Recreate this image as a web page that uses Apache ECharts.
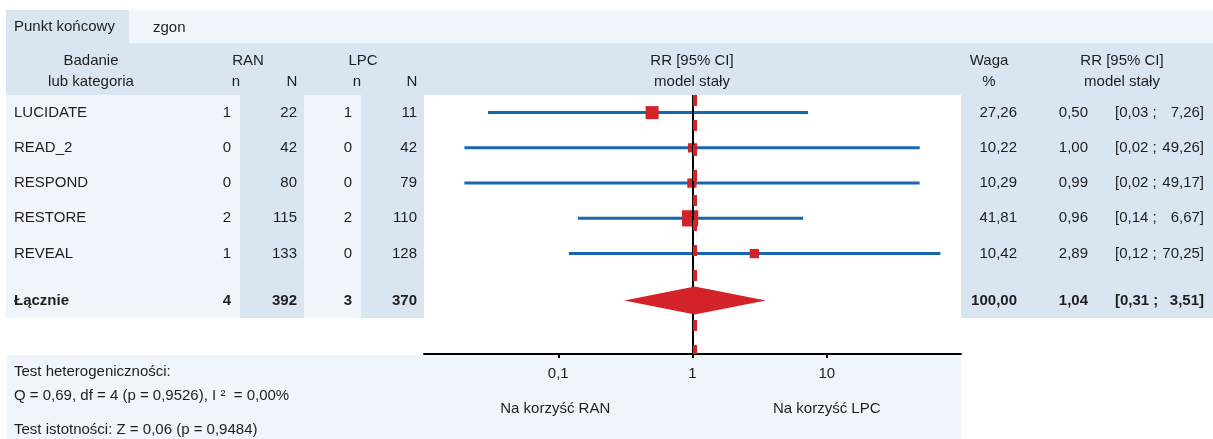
<!DOCTYPE html>
<html>
<head>
<meta charset="utf-8">
<script src="https://cdn.jsdelivr.net/npm/echarts@6/dist/echarts.min.js"></script>
<style>
  html, body { margin: 0; padding: 0; background: #fff; }
  #chart { width: 1213px; height: 439px; }
</style>
</head>
<body>
<div id="chart"></div>
<script>
// dane z wykresu
var studies = ['LUCIDATE', 'READ_2', 'RESPOND', 'RESTORE', 'REVEAL']
var ranEvents = [1, 0, 0, 2, 1]
var ranTotal = [22, 42, 80, 115, 133]
var lpcEvents = [1, 0, 0, 2, 0]
var lpcTotal = [11, 42, 79, 110, 128]
var weights = [27.26, 10.22, 10.29, 41.81, 10.42]
var rr = [0.50, 1.00, 0.99, 0.96, 2.89]
var ciLow = [0.03, 0.02, 0.02, 0.14, 0.12]
var ciHigh = [7.26, 49.26, 49.17, 6.67, 70.25]
var overall = { ranEvents: 4, ranTotal: 392, lpcEvents: 3, lpcTotal: 370, weight: 100.00, rr: 1.04, low: 0.31, high: 3.51 }
var xTicks = [0.1, 1, 10]

var DARK = '#dae5f2'
var LIGHT = '#eff5fb'
var RED = '#d42229'
var BLUE = '#1766b1'
var FAMILY = '"Liberation Sans", Arial, sans-serif'
var FONT = '15px ' + FAMILY
var BOLD = 'bold 15px ' + FAMILY
var TOTAL_ROW = 5.33

function fmt(v, d) {
  return v.toFixed(d).replace('.', ',')
}

var chart = echarts.init(document.getElementById('chart'))

var ciData = studies.map(function(s, i) { return [i, ciLow[i], ciHigh[i]] })
var sqData = studies.map(function(s, i) { return [rr[i], i, weights[i]] })

chart.setOption({
  animation: false,
  backgroundColor: '#fff',
  grid: { left: 424, right: 252, top: 95, bottom: 85 },
  xAxis: {
    type: 'log',
    logBase: 10,
    min: 0.01,
    max: 100,
    axisLine: { onZero: false, lineStyle: { color: '#000', width: 2 } },
    axisTick: { show: true, length: 4, customValues: xTicks, lineStyle: { color: '#000', width: 2 } },
    axisLabel: {
      customValues: xTicks,
      margin: 12,
      color: '#1e1e1e',
      fontSize: 15,
      fontFamily: FAMILY,
      formatter: function(v) { return String(v).replace('.', ',') }
    },
    splitLine: { show: false }
  },
  yAxis: {
    type: 'value',
    inverse: true,
    min: -0.5,
    max: 6.85,
    show: false
  },
  series: [
    {
      type: 'custom',
      z: 3,
      encode: { x: [1, 2], y: 0 },
      renderItem: function(params, api) {
        var p1 = api.coord([api.value(1), api.value(0)])
        var p2 = api.coord([api.value(2), api.value(0)])
        return {
          type: 'line',
          shape: { x1: p1[0], y1: p1[1], x2: p2[0], y2: p2[1] },
          style: { stroke: BLUE, lineWidth: 3 }
        }
      },
      data: ciData
    },
    {
      type: 'scatter',
      z: 4,
      symbol: 'rect',
      symbolSize: function(v) { return 7 + 0.22 * v[2] },
      itemStyle: { color: RED, opacity: 1 },
      data: sqData,
      markLine: {
        silent: true,
        symbol: 'none',
        label: { show: false },
        data: [
          { xAxis: 1, lineStyle: { color: '#000', width: 2, type: 'solid' } },
          { xAxis: overall.rr, lineStyle: { color: RED, width: 4, type: [11, 14] } }
        ]
      }
    },
    {
      type: 'custom',
      z: 5,
      encode: { x: [1, 2, 3], y: 0 },
      renderItem: function(params, api) {
        var row = api.value(0)
        var l = api.coord([api.value(2), row])
        var c = api.coord([api.value(1), row])
        var r = api.coord([api.value(3), row])
        return {
          type: 'polygon',
          shape: { points: [l, [c[0], c[1] - 14], r, [c[0], c[1] + 14]] },
          style: { fill: RED }
        }
      },
      data: [[TOTAL_ROW, overall.rr, overall.low, overall.high]]
    }
  ]
})

// tabela i opisy
function rowY(r) {
  return chart.convertToPixel({ yAxisIndex: 0 }, r)
}
function txt(text, x, y, align, font) {
  return {
    type: 'text',
    z: 10,
    style: {
      text: text, x: x, y: y,
      align: align || 'left', textAlign: align || 'left',
      verticalAlign: 'middle', textVerticalAlign: 'middle',
      font: font || FONT, fill: '#1e1e1e'
    }
  }
}
function rect(x, y, w, h, fill) {
  return { type: 'rect', z: -10, shape: { x: x, y: y, width: w, height: h }, style: { fill: fill } }
}

var els = [
  rect(6, 10, 123, 33, DARK),
  rect(129, 10, 1084, 33, LIGHT),
  rect(6, 43, 1207, 52, DARK),
  rect(6, 95, 418, 223, LIGHT),
  rect(240, 95, 64, 223, DARK),
  rect(361, 95, 63, 223, DARK),
  rect(961, 95, 252, 223, DARK),
  rect(7, 355, 954, 84, LIGHT),
  txt('Punkt końcowy', 14, 27),
  txt('zgon', 153, 28),
  txt('Badanie', 91, 61, 'center'),
  txt('lub kategoria', 91, 82, 'center'),
  txt('RAN', 248, 61, 'center'),
  txt('LPC', 363, 61, 'center'),
  txt('n', 236, 82, 'center'),
  txt('N', 292, 82, 'center'),
  txt('n', 357, 82, 'center'),
  txt('N', 412, 82, 'center'),
  txt('RR [95% CI]', 692, 61, 'center'),
  txt('model stały', 692, 82, 'center'),
  txt('Waga', 989, 61, 'center'),
  txt('%', 989, 82, 'center'),
  txt('RR [95% CI]', 1122, 61, 'center'),
  txt('model stały', 1122, 82, 'center'),
  txt('Test heterogeniczności:', 14, 372),
  txt('Q = 0,69, df = 4 (p = 0,9526), I ²  = 0,00%', 14, 396),
  txt('Test istotności: Z = 0,06 (p = 0,9484)', 14, 430),
  txt('Na korzyść RAN', chart.convertToPixel({ xAxisIndex: 0 }, xTicks[0]) - 3, 409, 'center'),
  txt('Na korzyść LPC', chart.convertToPixel({ xAxisIndex: 0 }, xTicks[2]), 409, 'center')
]

function addRow(y, name, a, b, c, d, w, est, lo, hi, font) {
  els.push(txt(name, 14, y, 'left', font))
  els.push(txt(String(a), 231, y, 'right', font))
  els.push(txt(String(b), 297, y, 'right', font))
  els.push(txt(String(c), 352, y, 'right', font))
  els.push(txt(String(d), 417, y, 'right', font))
  els.push(txt(fmt(w, 2), 1017, y, 'right', font))
  els.push(txt(fmt(est, 2), 1088, y, 'right', font))
  els.push(txt('[' + fmt(lo, 2) + ' ;', 1115, y, 'left', font))
  els.push(txt(fmt(hi, 2) + ']', 1204, y, 'right', font))
}

studies.forEach(function(s, i) {
  addRow(rowY(i), s, ranEvents[i], ranTotal[i], lpcEvents[i], lpcTotal[i], weights[i], rr[i], ciLow[i], ciHigh[i])
})
addRow(rowY(TOTAL_ROW), 'Łącznie', overall.ranEvents, overall.ranTotal, overall.lpcEvents, overall.lpcTotal,
  overall.weight, overall.rr, overall.low, overall.high, BOLD)

chart.setOption({ graphic: els })
</script>
</body>
</html>
